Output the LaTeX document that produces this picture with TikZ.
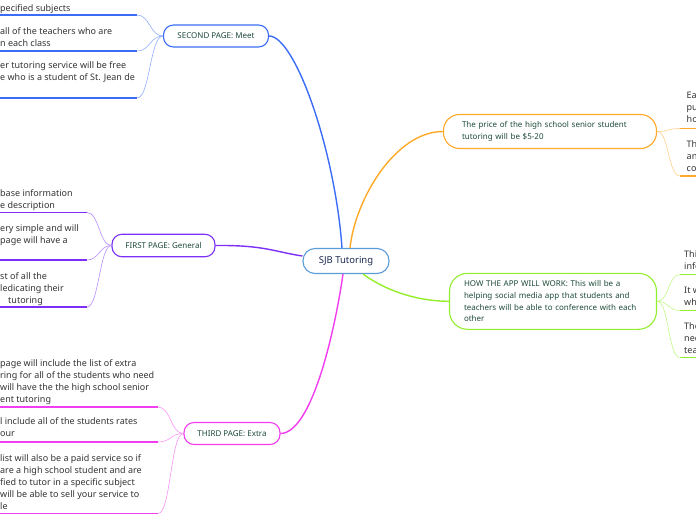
\documentclass[tikz,border=0pt]{standalone}
\usepackage{fontspec}
\setmainfont{Noto Sans}
\definecolor{centralblue}{RGB}{90,155,216}
\definecolor{navytext}{RGB}{26,43,80}
\definecolor{topicgreen}{RGB}{30,75,56}
\definecolor{leafgray}{RGB}{51,51,51}
\definecolor{meetblue}{RGB}{59,108,246}
\definecolor{genpurple}{RGB}{123,47,247}
\definecolor{extramagenta}{RGB}{242,60,240}
\definecolor{priceorange}{RGB}{255,169,40}
\definecolor{workgreen}{RGB}{147,238,44}
\tikzset{
  topic/.style={draw=#1, line width=1.1pt, rounded corners=10pt, fill=white,
    text=topicgreen, font=\fontsize{8}{11.6}\selectfont, inner sep=0pt},
  branch/.style={draw=#1, line width=1.4pt},
  twig/.style={draw=#1!55, line width=0.6pt},
  ruling/.style={draw=#1, line width=1.6pt},
  leaf/.style={text=leafgray, font=\fontsize{9}{12}\selectfont, align=left,
    inner sep=0pt, anchor=north west, execute at begin node=\strut},
}
\begin{document}
\begin{tikzpicture}[x=1pt,y=-1pt]
  \useasboundingbox (0,0) rectangle (696,520);
  \clip (0,0) rectangle (696,520);
  % central topic and main branches
  \node[topic=centralblue, minimum width=86pt, minimum height=25pt, rounded corners=12pt,
    text=navytext, font=\fontsize{9.5}{11}\selectfont\bfseries] (sjb) at (346,261) {SJB Tutoring};
  \node[topic=meetblue, minimum width=105pt, minimum height=22pt] (meet) at (216,36) {SECOND PAGE: Meet};
  \node[topic=genpurple, minimum width=103pt, minimum height=22.5pt] (general) at (163.5,245.5) {FIRST PAGE: General};
  \node[topic=extramagenta, minimum width=96pt, minimum height=22pt] (extra) at (232,433.5) {THIRD PAGE: Extra};
  \node[topic=priceorange, minimum width=213pt, minimum height=34pt, text width=176pt, align=left,
    rounded corners=16pt] (price) at (550,131.5) {The price of the high school senior student\\ tutoring will be \$5-20};
  \node[topic=workgreen, minimum width=207pt, minimum height=56pt, text width=178pt, align=left,
    rounded corners=18pt] (work) at (553,301.3) {HOW THE APP WILL WORK: This will be a\\ helping social media app that students and\\ teachers will be able to conference with each\\ other};
  \draw[branch=meetblue] (meet.east) .. controls (295,36) and (335,150) .. ([xshift=-4pt]sjb.north);
  \draw[branch=priceorange] ([xshift=4pt]sjb.north) .. controls (355,200) and (395,131.5) .. (price.west);
  \draw[branch=genpurple] (general.east) .. controls (265,245) and (275,252) .. ([yshift=5pt]sjb.west);
  \draw[branch=extramagenta] (extra.east) .. controls (312,433) and (335,330) .. ([xshift=-3pt]sjb.south);
  \draw[branch=workgreen] ([xshift=17pt]sjb.south) .. controls (385,290) and (415,301) .. (work.west);
  % second page leaves
  \node[leaf] (m1) at (0,3) {pecified subjects};
  \node[leaf] (m2) at (0,27) {all of the teachers who are\\ n each class};
  \node[leaf] (m3) at (0,61) {er tutoring service will be free\\ e who is a student of St. Jean de};
  \foreach \n/\y in {m1/15,m2/51,m3/98}{
    \coordinate (\n l) at (0,\y); \coordinate (\n r) at (137,\y);
    \draw[ruling=meetblue] (\n l) -- (\n r);
    \draw[twig=meetblue] (meet.west) .. controls +(-13,0) and +(13,0) .. (\n r);
  }
  % first page leaves
  \node[leaf] (g1) at (0,189) {base information\\ e description};
  \node[leaf] (g2) at (0,224) {ery simple and will\\ page will have a};
  \node[leaf] (g3) at (0,272) {st of all the\\ ledicating their\\ \hspace*{8pt}tutoring};
  \foreach \n/\y in {g1/212.5,g2/260,g3/307}{
    \coordinate (\n l) at (0,\y); \coordinate (\n r) at (87,\y);
    \draw[ruling=genpurple] (\n l) -- (\n r);
    \draw[twig=genpurple] (general.west) .. controls +(-12,0) and +(12,0) .. (\n r);
  }
  % third page leaves
  \node[leaf] (x1) at (0,359) {page will include the list of extra\\ ring for all of the students who need\\ will have the the high school senior\\ ent tutoring};
  \node[leaf] (x2) at (0,417) {l include all of the students rates\\ our};
  \node[leaf] (x3) at (0,454) {list will also be a paid service so if\\ are a high school student and are\\ fied to tutor in a specific subject\\ will be able to sell your service to\\ le};
  \foreach \n/\y in {x1/407,x2/442,x3/513.5}{
    \coordinate (\n l) at (0,\y); \coordinate (\n r) at (158,\y);
    \draw[ruling=extramagenta] (\n l) -- (\n r);
    \draw[twig=extramagenta] (extra.west) .. controls +(-13,0) and +(13,0) .. (\n r);
  }
  % price leaves
  \node[leaf] (p1) at (686.5,92) {Ea\\ pu\\ ho};
  \node[leaf] (p2) at (686.5,140) {Th\\ an\\ co};
  \foreach \n/\y in {p1/128.5,p2/176}{
    \coordinate (\n l) at (680,\y); \coordinate (\n r) at (696,\y);
    \draw[ruling=priceorange] (\n l) -- (\n r);
    \draw[twig=priceorange] (price.east) .. controls +(12,0) and +(-12,0) .. (\n l);
  }
  % app leaves
  \node[leaf] (w1) at (684,250.5) {Thi\\ info};
  \node[leaf] (w2) at (684,286.5) {It w\\ whi};
  \node[leaf] (w3) at (684,322) {The\\ nec\\ tea};
  \foreach \n/\y in {w1/274.5,w2/310.5,w3/357.5}{
    \coordinate (\n l) at (680,\y); \coordinate (\n r) at (696,\y);
    \draw[ruling=workgreen] (\n l) -- (\n r);
    \draw[twig=workgreen] (work.east) .. controls +(12,0) and +(-12,0) .. (\n l);
  }
\end{tikzpicture}
\end{document}
